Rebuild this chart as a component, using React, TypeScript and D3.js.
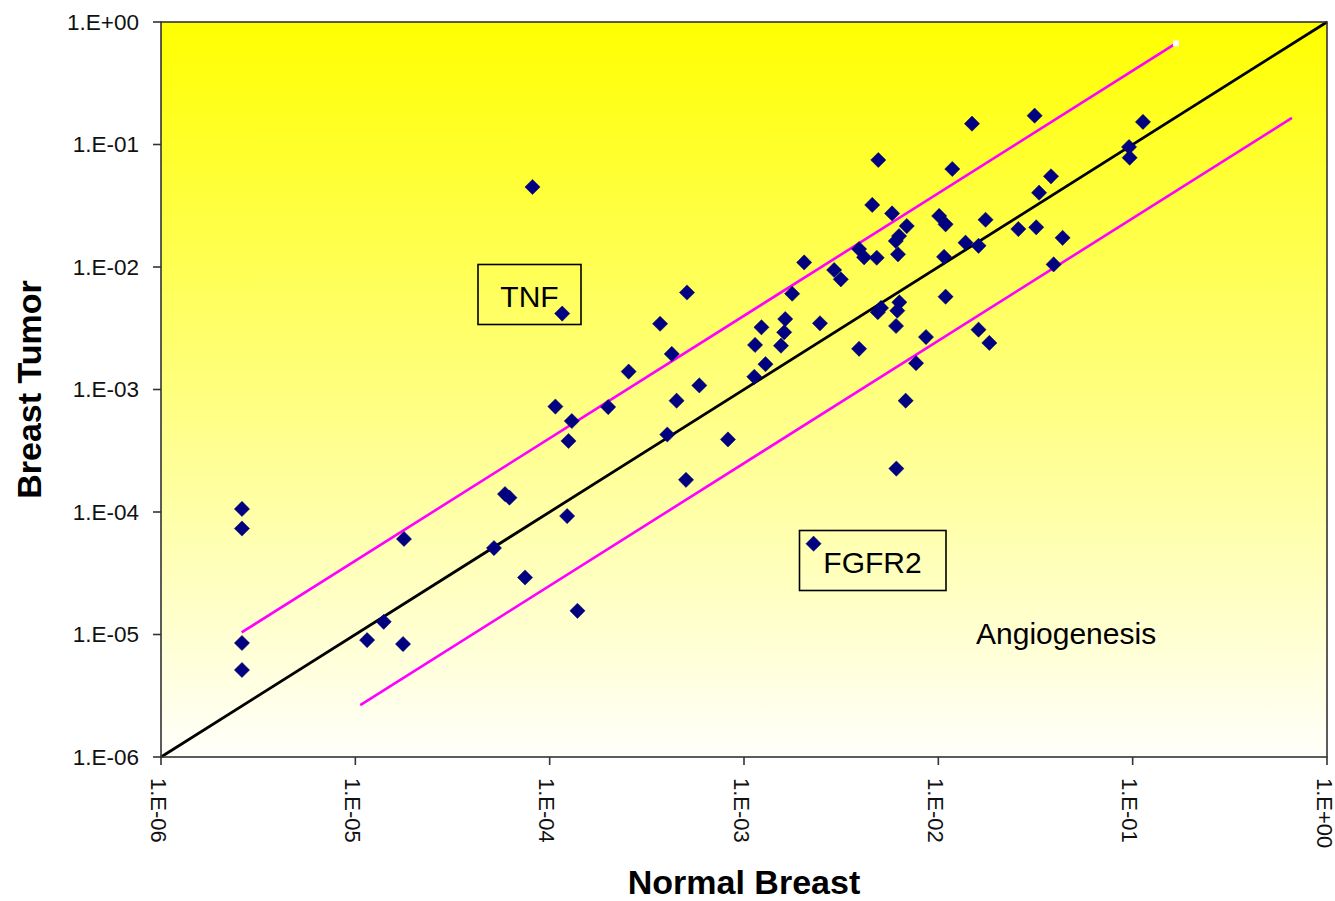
import React from "react";
import * as d3 from "d3";

// ---- data ----
const normalBreast: number[] = [
  2.61e-6, 2.61e-6, 2.61e-6, 2.61e-6, 1.78e-5, 1.40e-5, 1.15e-5, 1.76e-5,
  5.17e-5, 7.47e-5, 1.39e-4, 5.89e-5, 6.21e-5, 1.23e-4, 8.16e-5, 1.16e-4,
  1.07e-4, 1.30e-4, 1.25e-4, 2.00e-4, 2.55e-4, 3.70e-4, 4.25e-4, 4.03e-4,
  4.50e-4, 5.09e-4, 5.03e-4, 5.89e-4, 8.27e-4, 1.14e-3, 1.13e-3, 1.23e-3,
  1.29e-3, 1.63e-3, 1.61e-3, 1.55e-3, 1.77e-3, 2.46e-3, 2.04e-3, 2.91e-3,
  3.15e-3, 3.91e-3, 4.15e-3, 4.82e-3, 4.57e-3, 4.91e-3, 5.78e-3, 6.88e-3,
  6.28e-3, 6.04e-3, 6.20e-3, 3.91e-3, 6.30e-3, 6.15e-3, 5.07e-3, 4.88e-3,
  6.06e-3, 8.64e-3, 7.68e-3, 6.79e-3, 6.08e-3, 2.28e-3, 1.01e-2, 1.09e-2,
  1.07e-2, 1.09e-2, 1.18e-2, 1.49e-2, 1.38e-2, 1.61e-2, 1.75e-2, 1.61e-2,
  1.83e-2, 2.58e-2, 3.19e-2, 3.13e-2, 3.30e-2, 3.80e-2, 4.36e-2, 3.92e-2,
  1.13e-1, 9.58e-2, 9.65e-2,
];
const breastTumor: number[] = [
  1.06e-4, 7.33e-5, 8.52e-6, 5.13e-6, 6.02e-5, 1.27e-5, 9.0e-6, 8.36e-6,
  5.08e-5, 2.92e-5, 1.56e-5, 1.40e-4, 1.31e-4, 9.27e-5, 4.50e-2, 4.17e-3,
  7.26e-4, 5.53e-4, 3.80e-4, 7.19e-4, 1.40e-3, 3.44e-3, 1.95e-3, 4.29e-4,
  8.10e-4, 6.19e-3, 1.83e-4, 1.08e-3, 3.91e-4, 2.31e-3, 1.27e-3, 3.22e-3,
  1.61e-3, 3.76e-3, 2.93e-3, 2.28e-3, 6.05e-3, 3.47e-3, 1.09e-2, 9.45e-3,
  7.93e-3, 1.40e-2, 1.20e-2, 1.19e-2, 3.21e-2, 7.47e-2, 2.74e-2, 2.16e-2,
  1.79e-2, 1.63e-2, 1.27e-2, 2.15e-3, 5.15e-3, 4.40e-3, 4.63e-3, 4.27e-3,
  3.30e-3, 2.68e-3, 1.64e-3, 8.10e-4, 2.26e-4, 5.51e-5, 2.61e-2, 2.23e-2,
  1.21e-2, 5.72e-3, 6.31e-2, 1.48e-1, 1.58e-2, 1.49e-2, 2.43e-2, 3.08e-3,
  2.40e-3, 2.04e-2, 2.11e-2, 1.72e-1, 4.04e-2, 5.50e-2, 1.73e-2, 1.05e-2,
  1.53e-1, 9.54e-2, 7.80e-2,
];

const tickValues: number[] = [1e-6, 1e-5, 1e-4, 1e-3, 1e-2, 1e-1, 1];
const tickLabels: string[] = ["1.E-06", "1.E-05", "1.E-04", "1.E-03", "1.E-02", "1.E-01", "1.E+00"];

// reference lines: identity, 4-fold up, 4-fold down
const identityX: number[] = [1e-6, 1];
const upperFactor = 4;
const upperX: number[] = [2.6e-6, 0.167];
const lowerFactor = 0.25;
const lowerX: number[] = [1.06e-5, 0.66];

const annotationLabels: string[] = ["TNF", "FGFR2", "Angiogenesis"];

const FONT = "'Liberation Sans', Arial, Helvetica, sans-serif";

export default function App() {
  const W = 1335;
  const H = 901;
  const left = 161, right = 1327, top = 22, bottom = 757;

  const x = d3.scaleLog().domain([1e-6, 1]).range([left, right]);
  const y = d3.scaleLog().domain([1e-6, 1]).range([bottom, top]);

  const line = d3
    .line<[number, number]>()
    .x((d) => x(d[0]))
    .y((d) => y(d[1]));

  const identity = line(identityX.map((v) => [v, v] as [number, number]));
  const upper = line(upperX.map((v) => [v, v * upperFactor] as [number, number]));
  const lower = line(lowerX.map((v) => [v, v * lowerFactor] as [number, number]));

  const diamond = (cx: number, cy: number, r: number) =>
    `M${cx},${cy - r}L${cx + r},${cy}L${cx},${cy + r}L${cx - r},${cy}Z`;

  const axisColor = "#333333";
  const upperEnd = [upperX[1], upperX[1] * upperFactor];

  return (
    <svg
      width={W}
      height={H}
      style={{ position: "absolute", left: 0, top: 0, background: "#ffffff" }}
      fontFamily={FONT}
    >
      <defs>
        <linearGradient id="bg" x1="0" y1="0" x2="0" y2="1">
          <stop offset="0%" stopColor="#ffff00" />
          <stop offset="100%" stopColor="#fffffb" />
        </linearGradient>
      </defs>
      <rect x={left} y={top} width={right - left} height={bottom - top} fill="url(#bg)" />

      {/* reference lines */}
      <path d={identity || ""} stroke="#000000" strokeWidth={2.8} fill="none" />
      <path d={upper || ""} stroke="#ff00ff" strokeWidth={2.6} fill="none" />
      <path d={lower || ""} stroke="#ff00ff" strokeWidth={2.6} fill="none" />
      <rect x={x(upperEnd[0]) - 3} y={y(upperEnd[1]) - 3} width={6} height={6} fill="#ffffff" />

      {/* points */}
      {normalBreast.map((nv, i) => (
        <path key={i} d={diamond(x(nv), y(breastTumor[i]), 7.6)} fill="#000080" stroke="#000066" strokeWidth={0.5} />
      ))}

      {/* frame */}
      <rect x={left} y={top} width={right - left} height={bottom - top} fill="none" stroke={axisColor} strokeWidth={1.6} />

      {/* y axis ticks */}
      {tickValues.map((v, i) => (
        <g key={"y" + i}>
          <line x1={left - 8} x2={left} y1={y(v)} y2={y(v)} stroke={axisColor} strokeWidth={1.6} />
          <text x={139} y={y(v)} textAnchor="end" dominantBaseline="central" fontSize={22.5} fill="#111">
            {tickLabels[i]}
          </text>
        </g>
      ))}
      {/* x axis ticks */}
      {tickValues.map((v, i) => (
        <g key={"x" + i}>
          <line x1={x(v)} x2={x(v)} y1={bottom} y2={bottom + 8} stroke={axisColor} strokeWidth={1.6} />
          <text
            transform={`translate(${x(v) - 3},${778}) rotate(90)`}
            textAnchor="start"
            dominantBaseline="central"
            fontSize={22}
            fill="#111"
          >
            {tickLabels[i]}
          </text>
        </g>
      ))}

      {/* axis titles */}
      <text x={744} y={894} textAnchor="middle" fontSize={34} fontWeight="bold" fill="#000">
        Normal Breast
      </text>
      <text transform={`translate(41,${(top + bottom) / 2}) rotate(-90)`} textAnchor="middle" fontSize={34} fontWeight="bold" fill="#000">
        Breast Tumor
      </text>

      {/* annotations */}
      <rect x={478} y={264.5} width={103} height={60} fill="none" stroke="#000" strokeWidth={1.6} />
      <text x={529.5} y={307} textAnchor="middle" fontSize={30} fill="#000">
        {annotationLabels[0]}
      </text>
      <rect x={799.5} y={530.5} width={146.5} height={60} fill="none" stroke="#000" strokeWidth={1.6} />
      <text x={872.5} y={573} textAnchor="middle" fontSize={30} fill="#000">
        {annotationLabels[1]}
      </text>
      <text x={976} y={644} textAnchor="start" fontSize={30} fill="#000">
        {annotationLabels[2]}
      </text>
    </svg>
  );
}
